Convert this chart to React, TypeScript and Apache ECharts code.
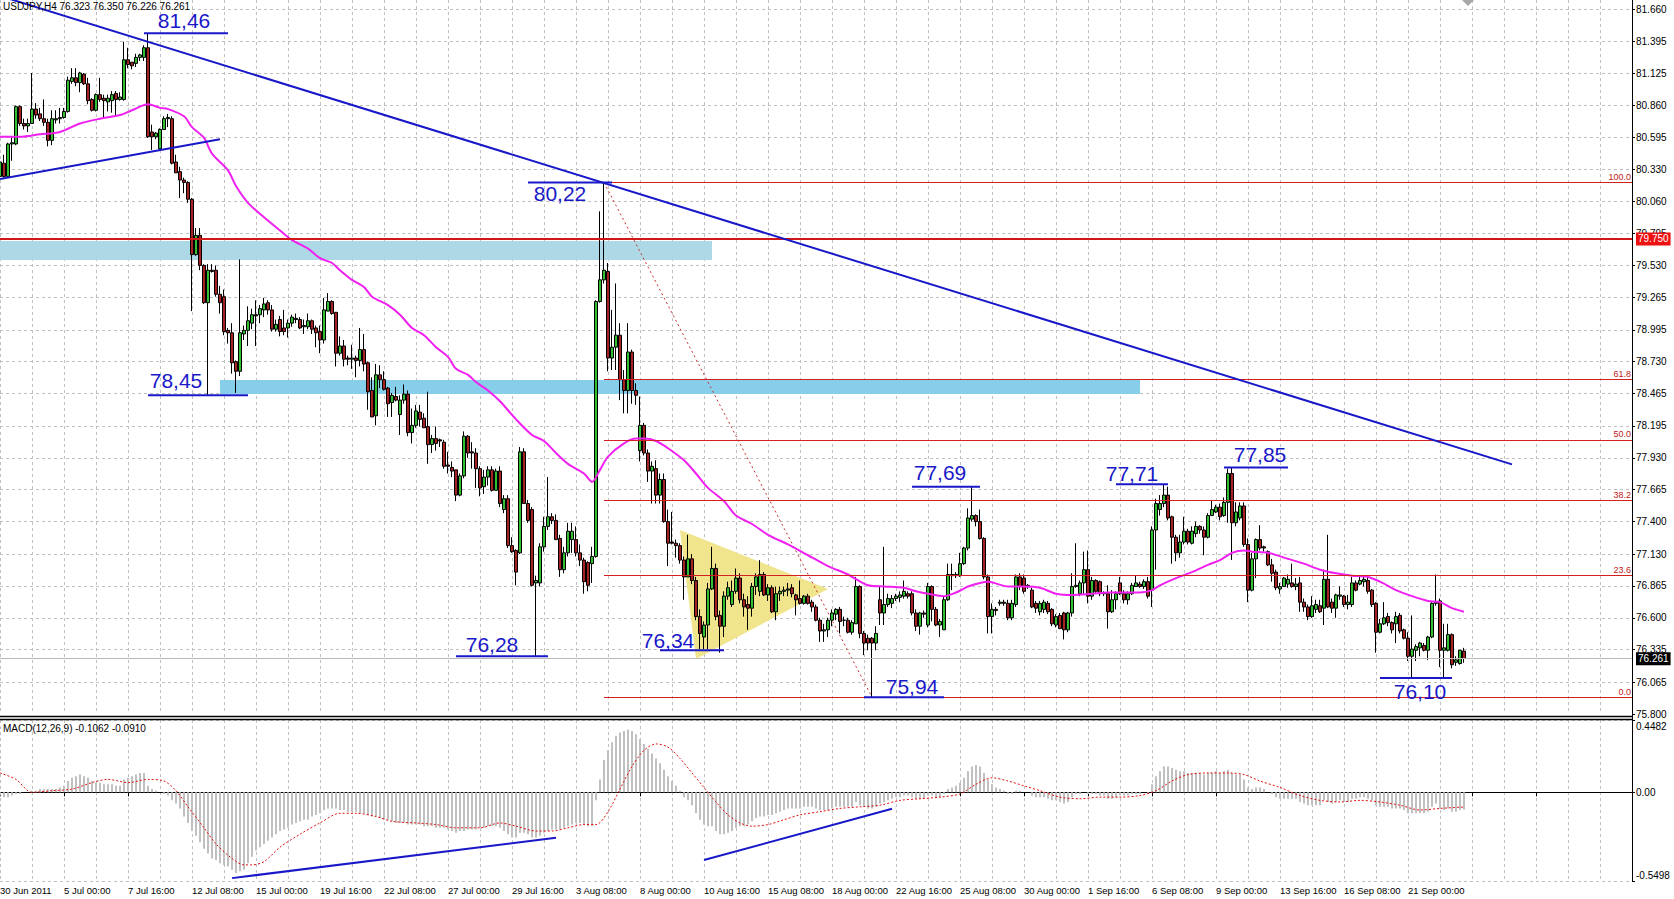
import React, { useEffect, useRef } from "react";
import * as echarts from "echarts";

const FONT = '"Liberation Sans", Arial, sans-serif';
const BAR_SLOTS = 409;

const timeLabels = [
  "30 Jun 2011", "5 Jul 00:00", "7 Jul 16:00", "12 Jul 08:00", "15 Jul 00:00", "19 Jul 16:00",
  "22 Jul 08:00", "27 Jul 00:00", "29 Jul 16:00", "3 Aug 08:00", "8 Aug 00:00", "10 Aug 16:00",
  "15 Aug 08:00", "18 Aug 00:00", "22 Aug 16:00", "25 Aug 08:00", "30 Aug 00:00", "1 Sep 16:00",
  "6 Sep 08:00", "9 Sep 00:00", "13 Sep 16:00", "16 Sep 08:00", "21 Sep 00:00",
];
const priceTicks = [81.66, 81.395, 81.125, 80.86, 80.595, 80.33, 80.06, 79.795, 79.53, 79.265, 78.995,
  78.73, 78.465, 78.195, 77.93, 77.665, 77.4, 77.13, 76.865, 76.6, 76.335, 76.065, 75.8];
const macdTicks = [0.4482, 0, -0.5498];

// [open, close, low, high]
const candles = [
  [80.27,80.39,80.26,80.40],[80.38,80.27,80.26,80.45],[80.27,80.54,80.26,80.55],[80.54,80.55,80.40,80.60],
  [80.54,80.85,80.53,80.86],[80.85,80.71,80.69,80.86],[80.71,80.69,80.66,80.75],[80.69,80.71,80.64,80.75],
  [80.71,80.83,80.71,81.13],[80.83,80.78,80.75,80.88],[80.79,80.75,80.73,80.84],[80.75,80.72,80.69,80.91],
  [80.72,80.57,80.52,80.75],[80.57,80.75,80.53,80.82],[80.74,80.75,80.71,80.82],[80.75,80.76,80.71,80.84],
  [80.76,80.81,80.75,80.84],[80.81,81.07,80.80,81.10],[81.06,81.09,81.04,81.17],[81.09,81.05,81.02,81.17],
  [81.05,81.13,80.97,81.14],[81.12,81.04,81.03,81.13],[81.04,80.90,80.87,81.09],[80.91,80.82,80.81,80.92],
  [80.82,80.95,80.81,80.96],[80.95,80.91,80.89,81.09],[80.92,80.90,80.76,80.95],[80.89,80.92,80.81,80.95],
  [80.90,80.95,80.80,80.98],[80.96,80.91,80.77,80.98],[80.91,80.93,80.90,80.97],[80.91,81.24,80.90,81.39],
  [81.24,81.20,81.17,81.34],[81.22,81.19,81.16,81.22],[81.21,81.26,81.18,81.29],[81.26,81.28,81.23,81.29],
  [81.26,81.34,81.23,81.36],[81.34,80.60,80.59,81.46],[80.64,80.60,80.49,80.70],[80.60,80.63,80.58,80.64],
  [80.50,80.66,80.49,80.67],[80.66,80.75,80.66,80.77],[80.75,80.76,80.68,80.79],[80.75,80.38,80.37,80.77],
  [80.39,80.30,80.30,80.45],[80.31,80.24,80.09,80.35],[80.24,80.22,80.13,80.26],[80.22,80.08,80.05,80.23],
  [80.08,79.62,79.15,80.09],[79.62,79.78,79.61,79.84],[79.78,79.53,79.49,79.84],[79.53,79.22,79.21,79.54],
  [79.22,79.49,78.45,79.54],[79.49,79.48,79.47,79.54],[79.49,79.29,79.27,79.53],[79.29,79.22,79.13,79.36],
  [79.27,78.98,78.95,79.33],[78.99,78.97,78.88,79.01],[78.97,78.72,78.63,79.05],[78.73,78.65,78.47,78.74],
  [78.65,78.97,78.61,79.58],[78.96,78.99,78.91,79.03],[78.99,79.07,78.86,79.19],[79.05,79.12,79.00,79.17],
  [79.12,79.11,78.86,79.24],[79.12,79.17,79.05,79.20],[79.16,79.21,79.10,79.26],[79.22,79.16,79.12,79.24],
  [79.16,79.00,78.98,79.20],[79.00,79.04,78.98,79.08],[79.08,78.98,78.94,79.11],[79.01,78.98,78.95,79.16],
  [79.01,79.05,78.93,79.08],[79.05,79.10,79.02,79.12],[79.09,79.08,79.05,79.13],[79.08,79.01,79.00,79.10],
  [79.02,79.03,78.96,79.08],[79.02,79.07,79.00,79.13],[79.07,79.00,78.96,79.08],[79.01,78.97,78.85,79.03],
  [78.98,78.91,78.80,79.03],[78.91,79.16,78.88,79.26],[79.15,79.23,79.15,79.30],[79.23,79.13,79.12,79.24],
  [79.14,78.80,78.69,79.14],[78.80,78.86,78.78,78.94],[78.86,78.75,78.69,78.91],[78.76,78.75,78.70,78.78],
  [78.75,78.76,78.67,78.87],[78.76,78.74,78.60,78.78],[78.74,78.83,78.69,79.01],[78.83,78.71,78.65,78.96],
  [78.72,78.48,78.33,78.73],[78.49,78.27,78.27,78.60],[78.28,78.62,78.20,78.71],[78.62,78.58,78.51,78.70],
  [78.58,78.50,78.49,78.65],[78.51,78.38,78.27,78.52],[78.39,78.45,78.27,78.47],[78.44,78.41,78.40,78.52],
  [78.29,78.41,78.12,78.45],[78.41,78.46,78.38,78.54],[78.46,78.14,78.11,78.49],[78.14,78.20,78.05,78.34],
  [78.20,78.32,78.18,78.37],[78.31,78.25,78.19,78.37],[78.26,78.18,78.18,78.30],[78.19,78.04,77.88,78.48],
  [78.04,78.09,77.97,78.12],[78.09,78.05,77.99,78.19],[78.08,78.07,78.02,78.09],[78.06,77.86,77.84,78.08],
  [77.87,77.86,77.80,77.98],[77.85,77.82,77.77,77.90],[77.83,77.62,77.57,77.83],[77.62,77.78,77.61,77.80],
  [77.78,78.11,77.76,78.15],[78.11,77.97,77.93,78.12],[77.98,77.97,77.84,78.06],[77.97,77.84,77.68,78.01],
  [77.84,77.68,77.61,77.86],[77.69,77.77,77.63,77.83],[77.77,77.83,77.70,77.86],[77.83,77.66,77.65,77.86],
  [77.66,77.82,77.66,77.84],[77.82,77.55,77.52,77.86],[77.50,77.59,77.47,77.62],[77.59,77.20,77.18,77.62],
  [77.20,77.15,77.14,77.27],[77.16,76.98,76.87,77.17],[77.14,77.98,77.13,78.02],[77.98,77.55,77.55,78.01],
  [77.55,77.41,77.39,77.58],[77.50,76.87,76.86,77.52],[76.89,76.91,76.28,76.95],[76.89,77.19,76.86,77.22],
  [77.19,77.36,77.15,77.44],[77.36,77.44,77.33,77.77],[77.44,77.41,77.38,77.47],[77.41,77.25,77.25,77.46],
  [77.26,77.00,76.94,77.29],[77.00,77.14,76.97,77.19],[77.14,77.32,77.11,77.39],[77.25,77.32,77.14,77.39],
  [77.25,77.14,77.11,77.36],[77.14,77.08,77.03,77.21],[77.08,76.90,76.80,77.10],[77.06,76.87,76.82,77.07],
  [77.05,77.11,76.89,77.19],[77.11,79.23,77.10,79.24],[79.23,79.41,79.22,79.98],[79.41,79.49,79.38,80.22],
  [79.48,78.76,78.65,79.55],[78.76,78.85,78.66,79.16],[78.85,78.95,78.66,79.38],[78.95,78.58,78.41,79.05],
  [78.58,78.49,78.30,78.66],[78.49,78.81,78.30,79.05],[78.81,78.49,78.38,78.83],[78.49,78.45,78.37,78.55],
  [77.99,78.20,77.90,78.44],[78.20,77.97,77.95,78.22],[77.97,77.82,77.73,78.00],[77.82,77.86,77.55,77.90],
  [77.84,77.62,77.55,77.91],[77.62,77.75,77.55,77.80],[77.75,77.40,77.39,77.80],[77.40,77.22,77.03,77.50],
  [77.23,77.22,77.21,77.48],[77.22,77.20,77.10,77.25],[77.20,77.08,77.05,77.22],[77.08,76.94,76.75,77.11],
  [76.94,77.09,76.94,77.29],[77.09,76.91,76.88,77.13],[76.91,76.61,76.58,76.94],[76.61,76.47,76.34,76.67],
  [76.44,76.54,76.34,76.57],[76.54,76.84,76.34,76.89],[76.84,77.01,76.83,77.19],[77.01,76.61,76.58,77.05],
  [76.62,76.53,76.31,76.66],[76.53,76.78,76.44,76.82],[76.78,76.85,76.75,76.90],[76.71,76.82,76.69,76.91],
  [76.82,76.93,76.80,77.01],[76.93,76.75,76.72,76.97],[76.75,76.69,76.61,76.80],[76.71,76.68,76.50,76.78],
  [76.68,76.86,76.61,76.89],[76.86,76.94,76.79,76.97],[76.82,76.96,76.78,77.08],[76.96,76.79,76.78,76.98],
  [76.79,76.85,76.74,76.88],[76.85,76.65,76.64,76.87],[76.65,76.80,76.58,76.86],[76.80,76.82,76.74,76.86],
  [76.82,76.83,76.78,76.86],[76.83,76.84,76.78,76.89],[76.85,76.80,76.77,76.88],[76.79,76.75,76.62,76.80],
  [76.76,76.72,76.71,76.91],[76.72,76.78,76.71,76.79],[76.78,76.72,76.71,76.80],[76.73,76.69,76.65,76.75],
  [76.69,76.58,76.57,76.71],[76.58,76.49,76.40,76.60],[76.49,76.50,76.40,76.55],[76.50,76.58,76.44,76.60],
  [76.58,76.64,76.53,76.67],[76.63,76.67,76.58,76.68],[76.67,76.57,76.47,76.69],[76.58,76.58,76.53,76.61],
  [76.58,76.48,76.47,76.60],[76.48,76.56,76.46,76.58],[76.55,76.86,76.55,76.94],[76.86,76.47,76.43,76.87],
  [76.47,76.39,76.29,76.49],[76.43,76.39,76.33,76.46],[76.43,76.39,75.94,76.44],[76.39,76.47,76.33,76.53],
  [76.75,76.64,76.54,76.86],[76.64,76.71,76.54,77.19],[76.71,76.76,76.69,76.80],[76.72,76.76,76.68,76.79],
  [76.76,76.78,76.74,76.80],[76.77,76.79,76.73,76.82],[76.78,76.82,76.76,76.91],[76.80,76.78,76.76,76.82],
  [76.80,76.64,76.62,76.82],[76.64,76.53,76.49,76.67],[76.53,76.64,76.46,76.65],[76.64,76.63,76.60,76.66],
  [76.54,76.86,76.52,76.89],[76.86,76.67,76.57,76.87],[76.67,76.54,76.53,76.69],[76.54,76.57,76.44,76.59],
  [76.50,76.75,76.50,76.78],[76.75,76.96,76.74,77.05],[76.95,76.96,76.83,77.05],[76.96,76.95,76.93,76.98],
  [76.95,77.05,76.94,77.14],[77.05,77.18,77.04,77.19],[77.18,77.43,77.16,77.51],[77.42,77.45,77.40,77.69],
  [77.45,77.40,77.36,77.46],[77.40,77.26,77.25,77.50],[77.26,76.94,76.92,77.27],[76.94,76.61,76.47,76.96],
  [76.61,76.67,76.47,76.72],[76.67,76.66,76.62,76.69],[76.72,76.73,76.70,76.75],[76.73,76.72,76.70,76.75],
  [76.72,76.60,76.58,76.75],[76.60,76.72,76.58,76.75],[76.71,76.94,76.69,76.96],[76.94,76.86,76.83,76.97],
  [76.93,76.82,76.80,76.96],[76.87,76.86,76.84,76.88],[76.83,76.69,76.68,76.85],[76.72,76.68,76.64,76.74],
  [76.65,76.72,76.62,76.74],[76.67,76.73,76.64,76.75],[76.72,76.65,76.63,76.74],[76.67,76.55,76.53,76.68],
  [76.54,76.61,76.52,76.63],[76.62,76.51,76.51,76.64],[76.64,76.50,76.42,76.65],[76.50,76.64,76.48,76.65],
  [76.64,76.86,76.61,76.97],[76.86,76.87,76.85,77.22],[76.80,76.89,76.78,76.91],[76.89,77.00,76.80,77.15],
  [77.00,76.78,76.72,77.16],[76.78,76.91,76.75,76.94],[76.91,76.82,76.80,76.92],[76.90,76.80,76.78,76.91],
  [76.81,76.80,76.78,76.82],[76.80,76.65,76.51,76.87],[76.65,76.75,76.64,76.83],[76.75,76.80,76.67,76.82],
  [76.89,76.80,76.79,76.94],[76.80,76.75,76.72,76.83],[76.75,76.80,76.71,76.82],[76.80,76.87,76.79,76.89],
  [76.86,76.89,76.86,76.95],[76.88,76.86,76.85,76.90],[76.86,76.90,76.84,76.92],[76.90,76.78,76.76,76.94],
  [76.83,77.33,76.69,77.36],[77.33,77.55,77.00,77.59],[77.50,77.55,77.45,77.62],[77.55,77.62,77.52,77.71],
  [77.62,77.43,77.41,77.69],[77.44,77.27,77.05,77.45],[77.27,77.14,77.07,77.29],[77.14,77.23,77.10,77.29],
  [77.23,77.32,77.21,77.44],[77.32,77.23,77.21,77.34],[77.22,77.32,77.21,77.36],[77.30,77.36,77.27,77.40],
  [77.36,77.33,77.30,77.37],[77.33,77.27,77.12,77.36],[77.27,77.45,77.26,77.47],[77.45,77.50,77.45,77.58],
  [77.48,77.52,77.47,77.54],[77.52,77.44,77.41,77.55],[77.45,77.56,77.44,77.60],[77.56,77.80,77.39,77.84],
  [77.80,77.39,77.08,77.85],[77.39,77.48,77.36,77.56],[77.43,77.53,77.41,77.56],[77.53,77.21,77.19,77.56],
  [77.21,76.83,76.73,77.26],[76.83,77.09,76.82,77.14],[77.09,77.25,76.93,77.26],[77.25,77.18,77.16,77.37],
  [77.19,77.18,77.15,77.20],[77.15,77.04,77.03,77.16],[77.04,76.97,76.90,77.09],[76.98,76.85,76.83,77.00],
  [76.84,76.86,76.80,76.89],[76.86,76.93,76.86,76.94],[76.88,76.92,76.85,76.96],[76.89,76.86,76.85,77.05],
  [76.86,76.88,76.83,76.93],[76.89,76.73,76.65,76.94],[76.73,76.69,76.65,76.76],[76.69,76.61,76.58,76.71],
  [76.61,76.70,76.60,76.78],[76.67,76.71,76.64,76.75],[76.70,76.65,76.64,76.75],[76.68,76.92,76.54,77.00],
  [76.92,76.69,76.68,77.29],[76.73,76.68,76.64,76.76],[76.68,76.79,76.60,76.80],[76.78,76.79,76.75,76.86],
  [76.78,76.71,76.69,76.79],[76.71,76.73,76.67,76.79],[76.71,76.89,76.69,76.94],[76.89,76.83,76.82,76.91],
  [76.88,76.91,76.87,76.95],[76.90,76.92,76.86,76.94],[76.91,76.82,76.80,76.94],[76.83,76.71,76.69,76.84],
  [76.72,76.48,76.31,76.73],[76.48,76.55,76.47,76.59],[76.55,76.60,76.54,76.73],[76.61,76.56,76.53,76.64],
  [76.56,76.50,76.47,76.57],[76.55,76.61,76.39,76.65],[76.62,76.49,76.47,76.64],[76.50,76.43,76.42,76.51],
  [76.43,76.28,76.24,76.48],[76.28,76.34,76.10,76.62],[76.33,76.36,76.24,76.38],[76.35,76.39,76.28,76.40],
  [76.37,76.33,76.32,76.39],[76.33,76.44,76.25,76.45],[76.44,76.72,76.43,76.73],[76.72,76.73,76.70,76.96],
  [76.74,76.33,76.19,76.76],[76.33,76.35,76.10,76.55],[76.33,76.46,76.32,76.55],[76.46,76.21,76.18,76.47],
  [76.23,76.25,76.20,76.28],[76.22,76.33,76.21,76.33],[76.323,76.261,76.226,76.350],
];

// moving average: [bar, price]
const maPoints = [
  [0,80.60],[5,80.60],[10,80.62],[15,80.64],[20,80.71],[25,80.75],[30,80.78],[33,80.82],[37,80.87],
  [40,80.84],[42,80.83],[46,80.77],[48,80.68],[51,80.59],[53,80.46],[57,80.32],[59,80.19],[62,80.05],
  [66,79.93],[70,79.82],[73,79.74],[77,79.67],[80,79.59],[83,79.55],[85,79.49],[88,79.41],[91,79.35],
  [93,79.27],[97,79.20],[100,79.12],[103,79.01],[106,78.95],[109,78.85],[112,78.77],[114,78.67],
  [117,78.62],[119,78.56],[122,78.49],[125,78.40],[129,78.25],[133,78.12],[136,78.07],[139,77.97],
  [142,77.88],[146,77.80],[148,77.73],[150,77.83],[152,77.94],[156,78.05],[159,78.09],[161,78.09],
  [164,78.07],[167,78.01],[171,77.91],[174,77.80],[177,77.68],[181,77.57],[184,77.45],[188,77.38],
  [192,77.29],[197,77.21],[202,77.12],[207,77.03],[212,76.96],[217,76.87],[221,76.86],[226,76.85],
  [229,76.82],[232,76.80],[236,76.78],[239,76.81],[242,76.86],[245,76.89],[247,76.90],[252,76.86],
  [256,76.86],[260,76.85],[264,76.80],[268,76.79],[273,76.80],[277,76.81],[281,76.81],[285,76.81],
  [288,76.83],[290,76.87],[294,76.93],[298,76.98],[302,77.04],[305,77.08],[308,77.14],[311,77.16],
  [313,77.15],[317,77.14],[322,77.09],[326,77.05],[330,77.00],[334,76.97],[338,76.95],[342,76.94],
  [345,76.90],[349,76.83],[353,76.78],[357,76.74],[360,76.73],[363,76.68],[366,76.65],
];

const macdHist = [
  -0.02,-0.03,-0.03,-0.02,-0.01,-0.01,0.00,0.00,0.01,0.01,
  0.02,0.02,0.02,0.02,0.02,0.03,0.04,0.07,0.09,0.10,
  0.11,0.10,0.09,0.07,0.06,0.06,0.05,0.05,0.05,0.04,
  0.04,0.08,0.09,0.10,0.11,0.12,0.12,0.04,0.02,0.01,
  0.00,-0.01,-0.02,-0.05,-0.07,-0.10,-0.15,-0.19,-0.24,-0.27,
  -0.31,-0.35,-0.38,-0.41,-0.42,-0.44,-0.45,-0.46,-0.48,-0.50,
  -0.49,-0.48,-0.44,-0.40,-0.36,-0.34,-0.32,-0.30,-0.28,-0.26,
  -0.24,-0.23,-0.22,-0.20,-0.19,-0.18,-0.17,-0.17,-0.15,-0.14,
  -0.13,-0.11,-0.10,-0.10,-0.10,-0.11,-0.11,-0.12,-0.12,-0.12,
  -0.13,-0.13,-0.14,-0.15,-0.15,-0.16,-0.17,-0.17,-0.18,-0.19,
  -0.19,-0.19,-0.20,-0.20,-0.20,-0.20,-0.21,-0.21,-0.21,-0.22,
  -0.22,-0.22,-0.23,-0.24,-0.25,-0.24,-0.24,-0.23,-0.23,-0.23,
  -0.22,-0.22,-0.21,-0.21,-0.21,-0.22,-0.24,-0.26,-0.28,-0.28,
  -0.25,-0.25,-0.26,-0.28,-0.28,-0.27,-0.25,-0.24,-0.23,-0.23,
  -0.23,-0.22,-0.21,-0.20,-0.19,-0.19,-0.20,-0.21,-0.21,-0.05,
  0.08,0.20,0.26,0.31,0.35,0.37,0.38,0.39,0.38,0.36,
  0.33,0.30,0.27,0.24,0.21,0.18,0.14,0.10,0.07,0.04,
  0.01,-0.03,-0.05,-0.08,-0.13,-0.17,-0.20,-0.21,-0.21,-0.24,
  -0.26,-0.26,-0.25,-0.24,-0.22,-0.21,-0.21,-0.20,-0.18,-0.16,
  -0.15,-0.15,-0.14,-0.14,-0.13,-0.12,-0.11,-0.10,-0.10,-0.10,
  -0.10,-0.09,-0.09,-0.09,-0.10,-0.11,-0.11,-0.11,-0.10,-0.09,
  -0.09,-0.09,-0.09,-0.09,-0.06,-0.08,-0.09,-0.10,-0.10,-0.09,
  -0.07,-0.06,-0.05,-0.04,-0.03,-0.03,-0.02,-0.02,-0.03,-0.04,
  -0.04,-0.04,-0.02,-0.02,-0.03,-0.03,-0.01,0.02,0.03,0.04,
  0.06,0.09,0.13,0.16,0.17,0.16,0.12,0.08,0.05,0.03,
  0.02,0.01,-0.01,-0.01,0.01,0.01,0.00,0.00,-0.02,-0.03,
  -0.03,-0.03,-0.04,-0.05,-0.05,-0.06,-0.07,-0.06,-0.03,-0.01,
  -0.01,0.00,-0.01,-0.01,-0.01,-0.02,-0.02,-0.04,-0.04,-0.03,
  -0.02,-0.02,-0.02,-0.01,-0.01,-0.01,0.00,-0.01,0.05,0.10,
  0.13,0.16,0.16,0.15,0.14,0.13,0.13,0.12,0.12,0.12,
  0.12,0.11,0.12,0.12,0.13,0.12,0.13,0.14,0.12,0.11,
  0.11,0.08,0.03,0.02,0.03,0.03,0.02,0.00,-0.01,-0.03,
  -0.04,-0.04,-0.04,-0.04,-0.04,-0.06,-0.07,-0.08,-0.08,-0.08,
  -0.08,-0.05,-0.06,-0.07,-0.06,-0.05,-0.06,-0.06,-0.04,-0.04,
  -0.03,-0.03,-0.04,-0.05,-0.08,-0.09,-0.09,-0.09,-0.10,-0.10,
  -0.10,-0.11,-0.13,-0.13,-0.13,-0.13,-0.13,-0.12,-0.09,-0.07,
  -0.10,-0.11,-0.10,-0.12,-0.12,-0.11,-0.1062,
];

const macdSignal = [
  [0,0.12],[4,0.08],[8,0.00],[13,0.01],[18,0.02],[23,0.06],[27,0.08],[32,0.06],[37,0.08],[41,0.07],
  [44,0.01],[47,-0.09],[51,-0.22],[54,-0.32],[58,-0.41],[61,-0.45],[63,-0.45],[66,-0.43],[70,-0.34],
  [75,-0.26],[80,-0.19],[85,-0.13],[89,-0.13],[94,-0.15],[98,-0.18],[104,-0.19],[109,-0.20],[114,-0.22],
  [120,-0.22],[125,-0.19],[129,-0.21],[134,-0.24],[138,-0.24],[142,-0.22],[146,-0.20],[149,-0.20],
  [152,-0.12],[155,0.02],[158,0.16],[161,0.26],[164,0.30],[167,0.28],[170,0.21],[173,0.12],[176,0.03],
  [179,-0.06],[182,-0.14],[185,-0.19],[188,-0.21],[192,-0.20],[196,-0.17],[200,-0.14],[205,-0.12],
  [210,-0.10],[215,-0.09],[220,-0.08],[225,-0.05],[230,-0.04],[235,-0.03],[240,-0.01],[244,0.05],
  [248,0.09],[252,0.07],[256,0.04],[260,0.01],[265,-0.03],[270,-0.04],[275,-0.03],[280,-0.03],
  [285,-0.02],[289,0.01],[293,0.07],[297,0.11],[302,0.12],[307,0.12],[311,0.11],[315,0.07],[320,0.03],
  [325,-0.02],[330,-0.05],[335,-0.06],[340,-0.05],[345,-0.06],[350,-0.08],[355,-0.11],[360,-0.10],
  [366,-0.091],
];

const fibLevels = ["0.0", "23.6", "38.2", "50.0", "61.8", "100.0"];
const fibPrices = [75.94, 76.95, 77.575, 78.08, 78.585, 80.22];
const fibStartBar = 151;
const fibDiagonal = [[151, 80.22], [218, 75.94]];

const priceTrendLines = [
  [[0, 81.771], [378, 77.876]],
  [[0, 80.249], [55, 80.579]],
];
const macdTrendLines = [
  [[58, -0.532], [139, -0.281]],
  [[176, -0.42], [223, -0.102]],
];

const resistanceLevel = 79.75;
const bidPrice = 76.261;

const annoTexts = ["81,46", "80,22", "78,45", "76,28", "76,34", "75,94", "77,69", "77,71", "77,85", "76,10"];
const annoPrices = [81.46, 80.22, 78.45, 76.28, 76.33, 75.94, 77.69, 77.71, 77.85, 76.10];
const annoLineFrom = [36.25, 132, 36.75, 114.25, 165.25, 216.25, 228.25, 279.25, 306, 345];
const annoLineTo = [57.25, 153.25, 62, 137, 181, 236, 244.75, 292, 322.25, 363.25];
const annoTextBar = [45.9, 140, 44, 123.1, 166.9, 228, 234.9, 283, 314.9, 355.1];
const annoTextPrice = [81.565, 80.132, 78.577, 76.382, 76.415, 76.028, 77.804, 77.796, 77.954, 75.991];

// [fromBar, toBar, topPrice, bottomPrice]
const zones = [
  [0, 177.75, 79.733, 79.575],
  [55, 284.75, 78.577, 78.461],
];
const zoneColors = ["#add8e6", "#87ceeb"];
const triangle = [[169.6, 77.33], [174.1, 76.257], [207.4, 76.84]];

const BLUE = "#1818c8";
const GRID = { color: "#c0c0c0", type: [3, 3] as any, width: 1 };

function buildOption() {
  const cats = Array.from({ length: BAR_SLOTS }, (_, i) => String(i));
  const last = candles[candles.length - 1];
  const title = `USDJPY,H4 ${last[0].toFixed(3)} ${last[3].toFixed(3)} ${last[2].toFixed(3)} ${last[1].toFixed(3)}`;
  const macdTitle = `MACD(12,26,9) ${macdHist[macdHist.length - 1].toFixed(4)} ${macdSignal[macdSignal.length - 1][1].toFixed(4)}`;

  const fibMarks = fibPrices.map((p, i) => [
    {
      coord: [fibStartBar, p],
      lineStyle: { color: "#d42020", width: 1, type: "solid" },
      label: {
        show: true, position: "insideEndTop", formatter: fibLevels[i], color: "#c02020",
        fontSize: 9, fontFamily: FONT, distance: 1,
      },
    },
    { coord: [BAR_SLOTS - 1, p] },
  ]);

  const series: any[] = [
    {
      type: "custom", name: "zones", xAxisIndex: 0, yAxisIndex: 0, z: 1, silent: true,
      data: zones,
      renderItem: (params: any, api: any) => {
        const z = zones[params.dataIndex];
        const a = api.coord([z[0], z[2]]);
        const b = api.coord([z[1], z[3]]);
        return {
          type: "rect",
          shape: { x: a[0], y: a[1], width: b[0] - a[0], height: b[1] - a[1] },
          style: { fill: zoneColors[params.dataIndex] },
        };
      },
    },
    {
      type: "custom", name: "triangle", xAxisIndex: 0, yAxisIndex: 0, z: 1, silent: true,
      data: [triangle[0]],
      renderItem: (_p: any, api: any) => ({
        type: "polygon",
        shape: { points: triangle.map((t) => api.coord(t)) },
        style: { fill: "#f0e48c" },
      }),
    },
    {
      type: "line", name: "fibDiagonal", xAxisIndex: 0, yAxisIndex: 0, z: 2,
      data: fibDiagonal, showSymbol: false, symbol: "none",
      lineStyle: { color: "#c83030", width: 1, type: [2, 3] },
      markLine: {
        silent: true, symbol: ["none", "none"], animation: false,
        data: [
          {
            yAxis: bidPrice,
            lineStyle: { color: "#b8b8b8", width: 1, type: "solid" },
            label: {
              show: true, position: "end", formatter: bidPrice.toFixed(3), color: "#fff",
              backgroundColor: "#000", padding: [2, 2, 1, 2], fontSize: 10, fontFamily: FONT, distance: 4,
            },
          },
          ...fibMarks,
        ],
      },
    },
    {
      type: "candlestick", name: "USDJPY", xAxisIndex: 0, yAxisIndex: 0, z: 3,
      data: candles, barWidth: 3,
      itemStyle: { color: "#32c032", color0: "#a52222", borderColor: "#000", borderColor0: "#000", borderWidth: 1 },
      markLine: {
        silent: true, symbol: ["none", "none"], animation: false,
        data: [
          {
            yAxis: resistanceLevel,
            lineStyle: { color: "#d01818", width: 2, type: "solid" },
            label: {
              show: true, position: "end", formatter: resistanceLevel.toFixed(3), color: "#fff",
              backgroundColor: "#ee1111", padding: [2, 2, 1, 2], fontSize: 10, fontFamily: FONT, distance: 4,
            },
          },
        ],
      },
    },
    {
      type: "line", name: "MA", xAxisIndex: 0, yAxisIndex: 0, z: 4,
      data: maPoints, showSymbol: false, symbol: "none", smooth: 0.3,
      lineStyle: { color: "#f020f0", width: 2 },
    },
    ...priceTrendLines.map((d) => ({
      type: "line", xAxisIndex: 0, yAxisIndex: 0, z: 5, data: d, showSymbol: false, symbol: "none",
      lineStyle: { color: BLUE, width: 2 },
    })),
    {
      type: "custom", name: "labels", xAxisIndex: 0, yAxisIndex: 0, z: 6, silent: true,
      data: annoTextBar.map((b, i) => [b, annoTextPrice[i]]),
      renderItem: (params: any, api: any) => {
        const i = params.dataIndex;
        const a = api.coord([annoLineFrom[i], annoPrices[i]]);
        const b = api.coord([annoLineTo[i], annoPrices[i]]);
        const t = api.coord([annoTextBar[i], annoTextPrice[i]]);
        return {
          type: "group",
          children: [
            { type: "line", shape: { x1: a[0], y1: a[1], x2: b[0], y2: b[1] }, style: { stroke: BLUE, lineWidth: 2 } },
            {
              type: "text", x: t[0], y: t[1],
              style: {
                text: annoTexts[i], fill: BLUE, fontSize: 21, lineHeight: 14, fontFamily: FONT,
                align: "center", verticalAlign: "middle",
              },
            },
          ],
        };
      },
    },
    {
      type: "bar", name: "MACD", xAxisIndex: 1, yAxisIndex: 1, data: macdHist, barWidth: 2,
      itemStyle: { color: "#c0c0c0" }, z: 2,
    },
    {
      type: "line", name: "Signal", xAxisIndex: 1, yAxisIndex: 1, data: macdSignal, showSymbol: false,
      symbol: "none", smooth: 0.3, lineStyle: { color: "#e01010", width: 1, type: [2, 2] }, z: 3,
    },
    ...macdTrendLines.map((d) => ({
      type: "line", xAxisIndex: 1, yAxisIndex: 1, z: 4, data: d, showSymbol: false, symbol: "none",
      lineStyle: { color: BLUE, width: 2 },
    })),
  ];

  return {
    animation: false,
    backgroundColor: "#fff",
    grid: [
      { left: 0, top: 0, width: 1632, height: 714, containLabel: false, outerBoundsMode: "none" },
      { left: 0, top: 720, width: 1632, height: 161, containLabel: false, outerBoundsMode: "none" },
    ],
    xAxis: [
      {
        type: "category", gridIndex: 0, data: cats, boundaryGap: false,
        axisLine: { show: false }, axisTick: { show: false }, axisLabel: { show: false },
        splitLine: { show: true, interval: 7, lineStyle: GRID },
      },
      {
        type: "category", gridIndex: 1, data: cats, boundaryGap: false,
        axisLine: { show: true, lineStyle: { color: "#000", width: 1 } },
        axisTick: { show: true, interval: 15, length: 4, lineStyle: { color: "#000" } },
        axisLabel: {
          show: true, interval: 15, align: "left", margin: 4, color: "#000", fontSize: 9.5, fontFamily: FONT,
          showMaxLabel: false, showMinLabel: true,
          formatter: (_v: string, idx: number) => (idx % 16 === 0 && timeLabels[idx / 16]) || "",
        },
        splitLine: { show: true, interval: 7, lineStyle: GRID },
      },
    ],
    yAxis: [
      {
        type: "value", gridIndex: 0, position: "right", min: 75.8, max: 81.737, scale: true,
        axisLine: { show: true, lineStyle: { color: "#000", width: 1 } },
        axisTick: { show: true, length: 3, customValues: priceTicks, lineStyle: { color: "#000" } },
        axisLabel: {
          show: true, customValues: priceTicks, margin: 4, color: "#000", fontSize: 10, fontFamily: FONT,
          formatter: (v: number) => v.toFixed(3),
        },
        splitLine: { show: true, lineStyle: GRID },
      },
      {
        type: "value", gridIndex: 1, position: "right", min: -0.5498, max: 0.4482,
        axisLine: { show: true, lineStyle: { color: "#000", width: 1 } },
        axisTick: { show: true, length: 3, customValues: macdTicks, lineStyle: { color: "#000" } },
        axisLabel: {
          show: true, customValues: macdTicks, margin: 4, color: "#000", fontSize: 10, fontFamily: FONT,
          formatter: (v: number) => (v === 0 ? "{m|0.00}" : v > 0 ? `{t|${v.toFixed(4)}}` : `{b|${v.toFixed(4)}}`),
          rich: {
            t: { padding: [12, 0, 0, 0], fontSize: 10, fontFamily: FONT, color: "#000" },
            b: { padding: [0, 0, 12, 0], fontSize: 10, fontFamily: FONT, color: "#000" },
            m: { fontSize: 10, fontFamily: FONT, color: "#000" },
          },
        },
        splitLine: { show: true, lineStyle: GRID },
      },
    ],
    graphic: [
      { type: "text", left: 3, top: 1, z: 100, style: { text: title, fill: "#000", fontSize: 10, lineHeight: 11, fontFamily: FONT } },
      { type: "text", left: 3, top: 723, z: 100, style: { text: macdTitle, fill: "#000", fontSize: 10, fontFamily: FONT } },
      { type: "rect", left: 0, top: 714, z: 90, shape: { width: 1633, height: 6 }, style: { fill: "#fff" } },
      { type: "line", z: 91, shape: { x1: 0, y1: 716.5, x2: 1633, y2: 716.5 }, style: { stroke: "#000", lineWidth: 1.5 } },
      { type: "line", z: 91, shape: { x1: 0, y1: 719.5, x2: 1633, y2: 719.5 }, style: { stroke: "#000", lineWidth: 1.5 } },
      { type: "line", z: 91, shape: { x1: 1632.5, y1: 0, x2: 1632.5, y2: 881 }, style: { stroke: "#000", lineWidth: 1 } },
      { type: "polygon", z: 91, shape: { points: [[1462, 0], [1474, 0], [1468, 6]] }, style: { fill: "#a8a8a8" } },
    ],
    series,
  };
}

export default function App() {
  const ref = useRef<HTMLDivElement>(null);
  useEffect(() => {
    document.body.style.margin = "0";
    const chart = echarts.init(ref.current as HTMLDivElement, null, { renderer: "svg" });
    chart.setOption(buildOption() as any);
    return () => chart.dispose();
  }, []);
  return (
    <div
      ref={ref}
      style={{ position: "absolute", left: 0, top: 0, width: 1674, height: 899, background: "#fff" }}
    />
  );
}
